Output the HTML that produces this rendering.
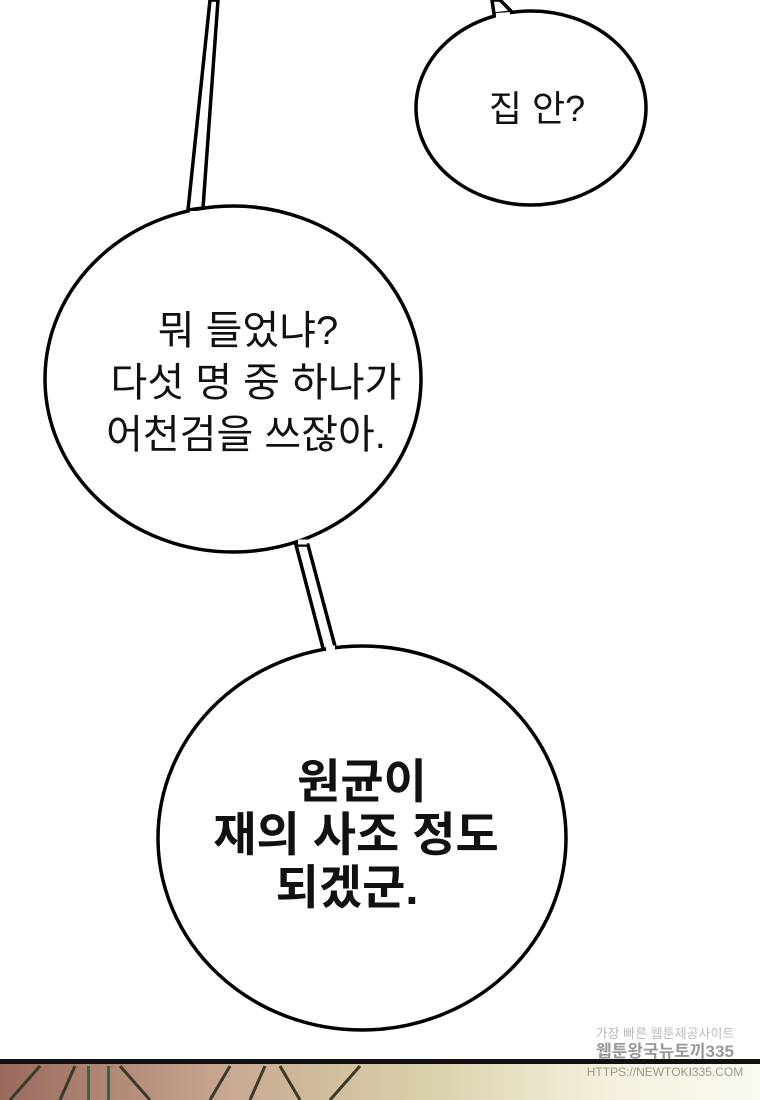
<!DOCTYPE html>
<html><head><meta charset="utf-8"><style>
html,body{margin:0;padding:0;background:#fff;}
svg{display:block}
text{font-family:"Liberation Sans","Noto Sans CJK KR",sans-serif;fill:#111}
</style></head><body>
<svg width="760" height="1100" viewBox="0 0 760 1100" xmlns="http://www.w3.org/2000/svg">
<defs>
<linearGradient id="art" x1="0" x2="1" y1="0" y2="0">
<stop offset="0" stop-color="#9a6a5c"/>
<stop offset="0.3" stop-color="#c9a892"/>
<stop offset="0.55" stop-color="#d8cfa8"/>
<stop offset="0.8" stop-color="#f4f0dc"/>
<stop offset="1" stop-color="#fbfaf2"/>
</linearGradient>
</defs>
<rect width="760" height="1100" fill="#fff"/>
<rect x="0" y="1063" width="760" height="37" fill="url(#art)"/>
<path d="M10 1100 L40 1066 M60 1100 L75 1066 M150 1100 L120 1066 M210 1100 L230 1066 M250 1100 L265 1066 M300 1100 L280 1066 M330 1100 L360 1066" stroke="#3a3a2a" stroke-width="3" fill="none"/>
<rect x="87" y="1066" width="3" height="34" fill="#2c6a48"/>
<rect x="107" y="1066" width="3" height="34" fill="#2c6a48"/>
<rect x="0" y="1059" width="760" height="5" fill="#111"/>
<text x="665" y="1038" font-size="13" text-anchor="middle" style="fill:#bbb">가장 빠른 웹툰제공사이트</text>
<text x="665" y="1057" font-size="17" text-anchor="middle" style="fill:#999;font-weight:bold">웹툰왕국뉴토끼335</text>
<text x="665" y="1076" font-size="12" text-anchor="middle" style="fill:#999">HTTPS://NEWTOKI335.COM</text>
<path d="M188 210 L210 0 L218 0 L203 208 Z" fill="#fff" stroke="#000" stroke-width="3.5"/>
<path d="M494 14 L492 0 L500 0 L512 12 Z" fill="#fff" stroke="#000" stroke-width="3.5"/>
<path d="M296 545 L324 652 L336 650 L308 545 Z" fill="#fff" stroke="#000" stroke-width="3.5"/>
<ellipse cx="531" cy="108" rx="115" ry="97" fill="#fff" stroke="#000" stroke-width="3.5"/>
<ellipse cx="233" cy="379" rx="188" ry="173" fill="#fff" stroke="#000" stroke-width="3.5"/>
<ellipse cx="362" cy="838" rx="204" ry="192" fill="#fff" stroke="#000" stroke-width="3.5"/>
<path d="M190 214 L202 214" stroke="#fff" stroke-width="6"/>
<path d="M496 16 L510 15" stroke="#fff" stroke-width="6"/>
<path d="M298 542 L307 542" stroke="#fff" stroke-width="5"/>
<path d="M326 648 L335 648" stroke="#fff" stroke-width="5"/>
<text x="537" y="121" font-size="36" text-anchor="middle">집 안?</text>
<text x="248" y="344" font-size="40" text-anchor="middle">뭐 들었냐?</text>
<text x="256" y="396" font-size="40" text-anchor="middle">다섯 명 중 하나가</text>
<text x="246" y="448" font-size="40" text-anchor="middle">어천검을 쓰잖아.</text>
<text x="362" y="798" font-size="47" font-weight="bold" text-anchor="middle">원균이</text>
<text x="356" y="851" font-size="47" font-weight="bold" text-anchor="middle">재의 사조 정도</text>
<text x="347" y="904" font-size="47" font-weight="bold" text-anchor="middle">되겠군.</text>
</svg>
</body></html>
